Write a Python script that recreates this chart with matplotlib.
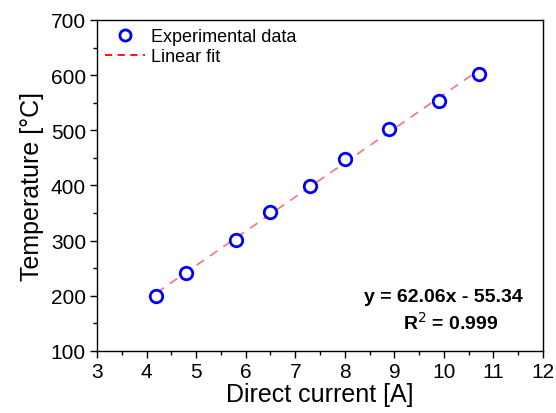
import matplotlib
matplotlib.use("Agg")
import matplotlib.pyplot as plt
from matplotlib.lines import Line2D
from matplotlib.ticker import MultipleLocator
import numpy as np

# measured data
current = [4.2, 4.8, 5.8, 6.5, 7.3, 8.0, 8.9, 9.9, 10.7]
temperature = [200, 242, 302, 352, 399, 448, 503, 553, 603]
slope, intercept = 62.06, -55.34

plt.rcParams["font.family"] = ["Liberation Sans", "DejaVu Sans"]

fig = plt.figure(figsize=(5.56, 4.14), dpi=100)
ax = fig.add_axes([0.1745, 0.1498, 0.8021, 0.7995])

xfit = np.array([current[0], current[-1]])
ax.plot(xfit, slope * xfit + intercept, ls=(0, (5, 4)), color="#f08080", lw=1.3, zorder=2)
ax.plot(current, temperature, ls="none", marker="o", ms=9, mfc="white",
        mec="#0000ff", mew=2, zorder=3)

ax.set_xlim(3, 12)
ax.set_ylim(100, 700)
ax.xaxis.set_major_locator(MultipleLocator(1))
ax.xaxis.set_minor_locator(MultipleLocator(0.5))
ax.yaxis.set_major_locator(MultipleLocator(100))
ax.yaxis.set_minor_locator(MultipleLocator(50))
ax.tick_params(which="major", direction="out", length=5, width=1, labelsize=15, pad=3)
ax.tick_params(which="minor", direction="out", length=3, width=1)
for s in ax.spines.values():
    s.set_linewidth(1)

ax.set_xlabel("Direct current [A]", fontsize=18, labelpad=1)
ax.set_ylabel("Temperature [°C]", fontsize=18, labelpad=5)

handles = [
    Line2D([], [], ls="none", marker="o", ms=8, mfc="white", mec="#0000ff", mew=2),
    Line2D([], [], ls=(0, (4, 3)), color="red", lw=1.3),
]
ax.legend(handles, ["Experimental data", "Linear fit"], loc="upper left",
          frameon=False, fontsize=13, handlelength=2.2, borderaxespad=0.05,
          labelspacing=0.15, handletextpad=0.35)

ax.text(0.955, 0.165, "y = 62.06x - 55.34", transform=ax.transAxes,
        ha="right", va="center", fontsize=14, fontweight="bold")
ax.text(0.9, 0.088, "R$^2$ = 0.999", transform=ax.transAxes,
        ha="right", va="center", fontsize=14, fontweight="bold")

fig.savefig("out.png", dpi=100)
